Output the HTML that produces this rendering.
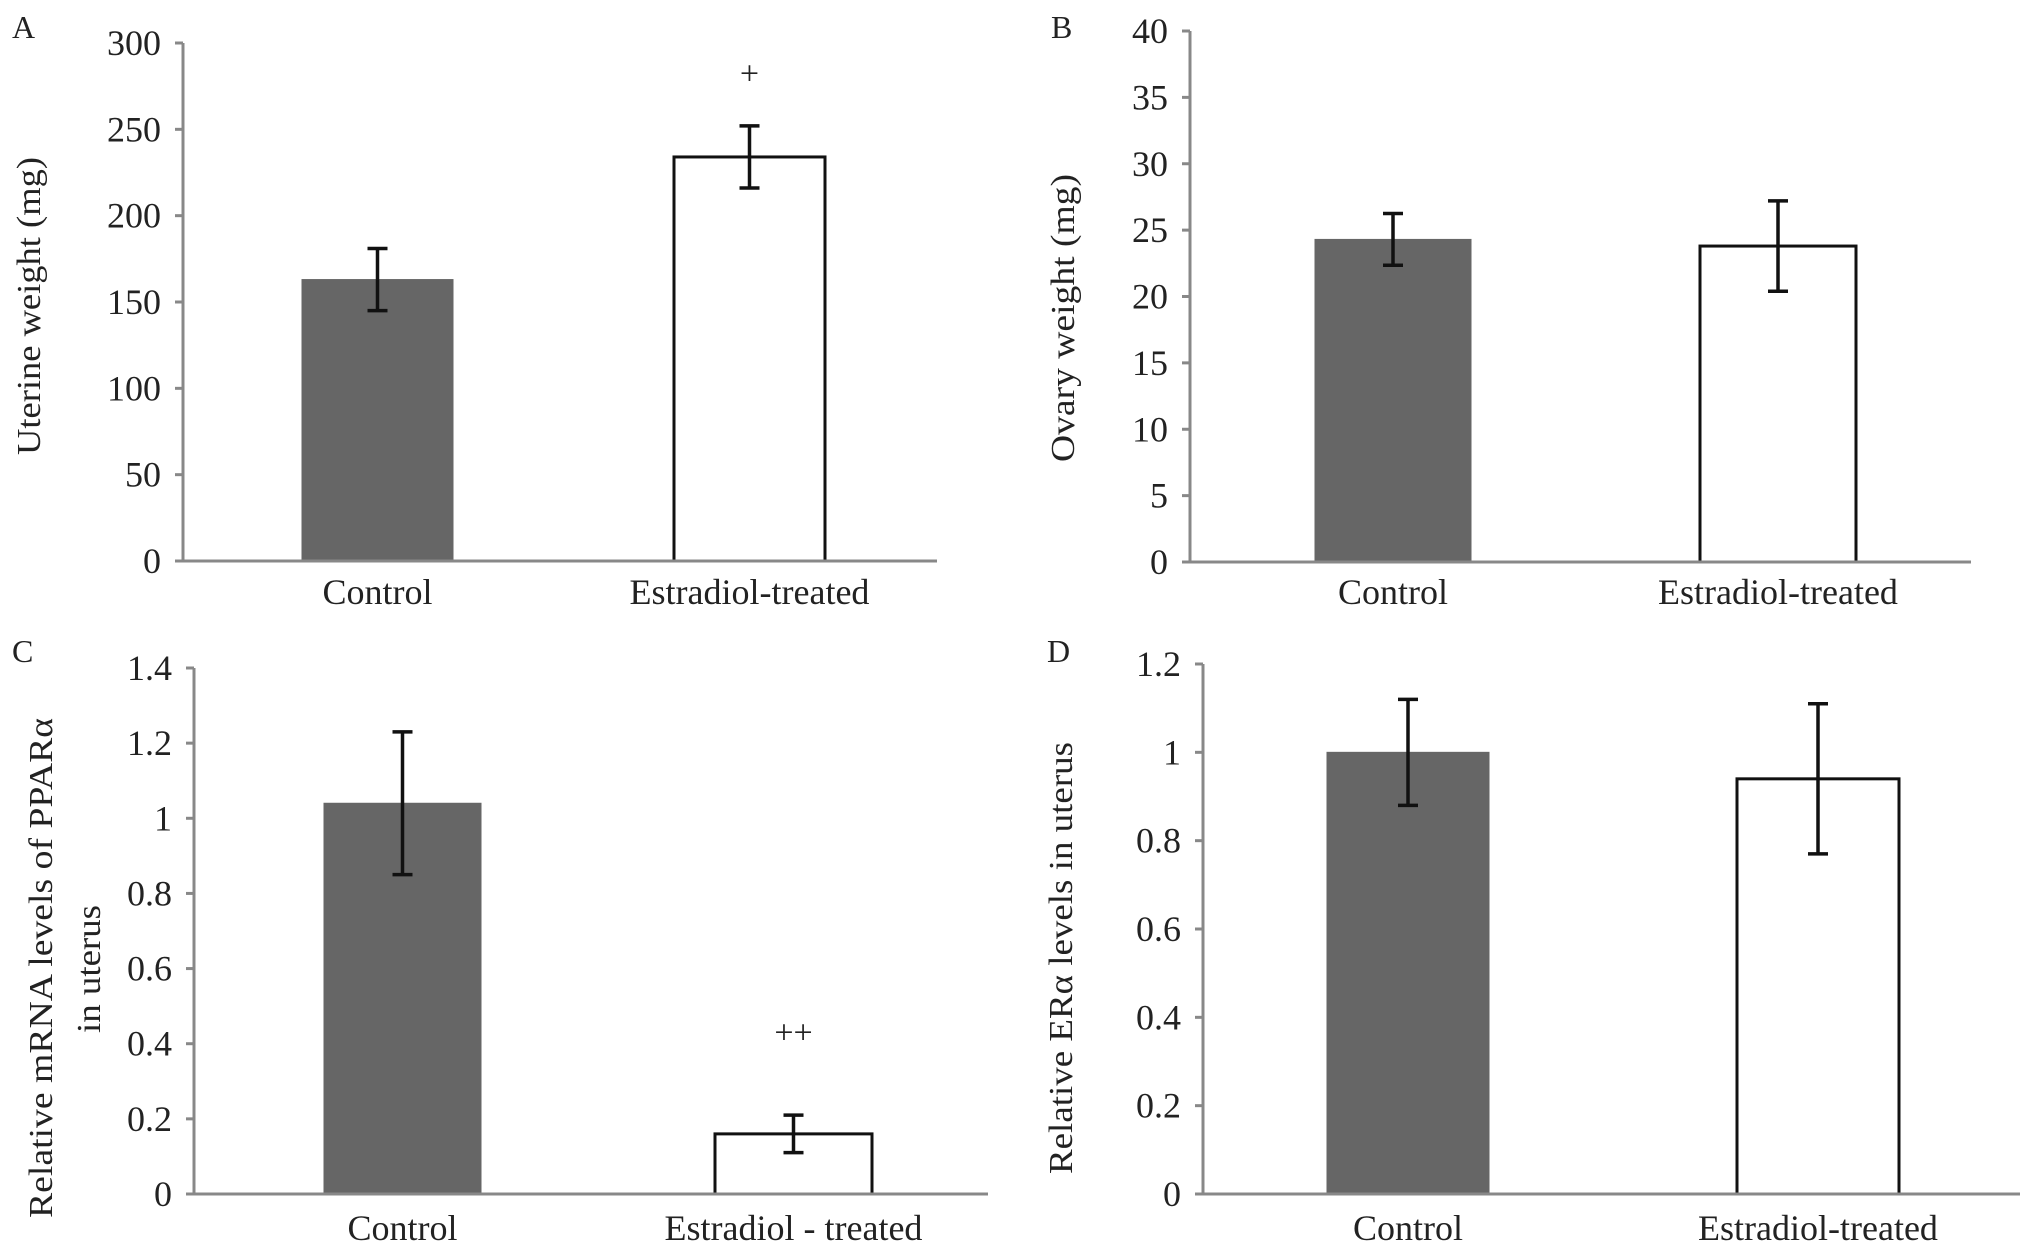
<!DOCTYPE html>
<html><head><meta charset="utf-8"><style>
html,body{margin:0;padding:0;background:#fff;}
svg{display:block;font-family:"Liberation Serif",serif;}
</style></head><body>
<svg id="fig" width="2031" height="1253" viewBox="0 0 2031 1253"></svg>
<script>
const categories = ["Control", "Estradiol-treated"];
const categoriesC = ["Control", "Estradiol - treated"];
const uterineMeans = [163, 234];
const uterineErr = [18, 18];
const ovaryMeans = [24.3, 23.8];
const ovaryErr = [1.95, 3.4];
const ppargMeans = [1.04, 0.16];
const ppargErr = [0.19, 0.05];
const eraMeans = [1.0, 0.94];
const eraErr = [0.12, 0.17];
const ticksA = [0, 50, 100, 150, 200, 250, 300];
const ticksB = [0, 5, 10, 15, 20, 25, 30, 35, 40];
const ticksC = ["0", "0.2", "0.4", "0.6", "0.8", "1", "1.2", "1.4"];
const ticksD = ["0", "0.2", "0.4", "0.6", "0.8", "1", "1.2"];
const sigA = ["", "+"];
const sigC = ["", "++"];

const NS = "http://www.w3.org/2000/svg";
const svg = document.getElementById("fig");
function mk(tag, attrs, parent, text) {
  const e = document.createElementNS(NS, tag);
  for (const k in attrs) e.setAttribute(k, attrs[k]);
  if (text !== undefined) e.textContent = text;
  (parent || svg).appendChild(e);
  return e;
}

function panel(p) {
  const g = mk("g", {});
  
  
  const maxV = p.max;
  const y = v => p.y0 - (v / maxV) * (p.y0 - p.yTop);
  const lt = mk("text", {x: p.letterX, y: p.letterY, "font-size": 32, fill: "#222"}, g, p.letter);
  
  
  p.means.forEach((m, i) => {
    const x0 = p.barX[i], w = p.barW;
    const r = mk("rect", {x: x0, y: y(m), width: w, height: p.y0 - y(m),
      fill: i === 0 ? "#666" : "#fff", stroke: i === 0 ? "#666" : "#111", "stroke-width": i === 0 ? 1 : 3}, g);
    
    
    const cx = x0 + w / 2;
    const eb = mk("g", {stroke: "#111", "stroke-width": 3.5}, g);
    
    
    mk("line", {x1: cx, x2: cx, y1: y(m + p.err[i]), y2: y(m - p.err[i])}, eb);
    mk("line", {x1: cx - 10, x2: cx + 10, y1: y(m + p.err[i]), y2: y(m + p.err[i])}, eb);
    mk("line", {x1: cx - 10, x2: cx + 10, y1: y(m - p.err[i]), y2: y(m - p.err[i])}, eb);
    if (p.sig && p.sig[i]) {
      const s = mk("text", {x: cx, y: y(p.sigPos), "font-size": 34, "text-anchor": "middle", fill: "#222"}, g, p.sig[i]);
      
      
    }
    const cl = mk("text", {x: cx, y: p.catY, "font-size": 36, "text-anchor": "middle", fill: "#222"}, g, p.cats[i]);
    
    
  });
  const ax = mk("g", {stroke: "#888", "stroke-width": 3}, g);
  
  
  mk("line", {x1: p.ax, x2: p.ax, y1: p.yTop, y2: p.y0}, ax);
  mk("line", {x1: p.ax - 8, x2: p.xEnd, y1: p.y0, y2: p.y0}, ax);
  p.ticks.forEach(t => {
    const v = parseFloat(t);
    mk("line", {x1: p.ax - 8, x2: p.ax, y1: y(v), y2: y(v)}, ax);
    const tl = mk("text", {x: p.ax - 22, y: y(v) + 12, "font-size": 36, "text-anchor": "end", fill: "#222"}, g, String(t));
    
    
  });
  p.titles.forEach(tt => {
    const t = mk("text", {x: 0, y: 0, "font-size": 34, "text-anchor": "middle", fill: "#222",
      transform: "translate(" + tt.x + "," + tt.y + ") rotate(-90)", textLength: tt.len, lengthAdjust: "spacingAndGlyphs"}, g, tt.text);
    
    
  });
}

panel({letter: "A", letterX: 12, letterY: 38, ax: 183, yTop: 43, y0: 561, xEnd: 937, max: 300,
  means: uterineMeans, err: uterineErr, barX: [302, 674], barW: 151, ticks: ticksA, cats: categories,
  catY: 604, sig: sigA, sigPos: 276, titles: [{text: "Uterine weight (mg)", x: 40, y: 306, len: 298}]});
panel({letter: "B", letterX: 1051, letterY: 38, ax: 1190, yTop: 31, y0: 562, xEnd: 1971, max: 40,
  means: ovaryMeans, err: ovaryErr, barX: [1315, 1700], barW: 156, ticks: ticksB, cats: categories,
  catY: 604, titles: [{text: "Ovary weight (mg)", x: 1074, y: 318, len: 288}]});
panel({letter: "C", letterX: 12, letterY: 662, ax: 194, yTop: 668, y0: 1194, xEnd: 988, max: 1.4,
  means: ppargMeans, err: ppargErr, barX: [324, 715], barW: 157, ticks: ticksC, cats: categoriesC,
  catY: 1240, sig: sigC, sigPos: 0.4, titles: [{text: "Relative mRNA levels of PPARα", x: 52, y: 968, len: 500}, {text: "in uterus", x: 100, y: 969, len: 128}]});
panel({letter: "D", letterX: 1047, letterY: 662, ax: 1203, yTop: 664, y0: 1194, xEnd: 2020, max: 1.2,
  means: eraMeans, err: eraErr, barX: [1327, 1737], barW: 162, ticks: ticksD, cats: categories,
  catY: 1240, titles: [{text: "Relative ERα levels in uterus", x: 1072, y: 958, len: 432}]});
</script>
</body></html>
